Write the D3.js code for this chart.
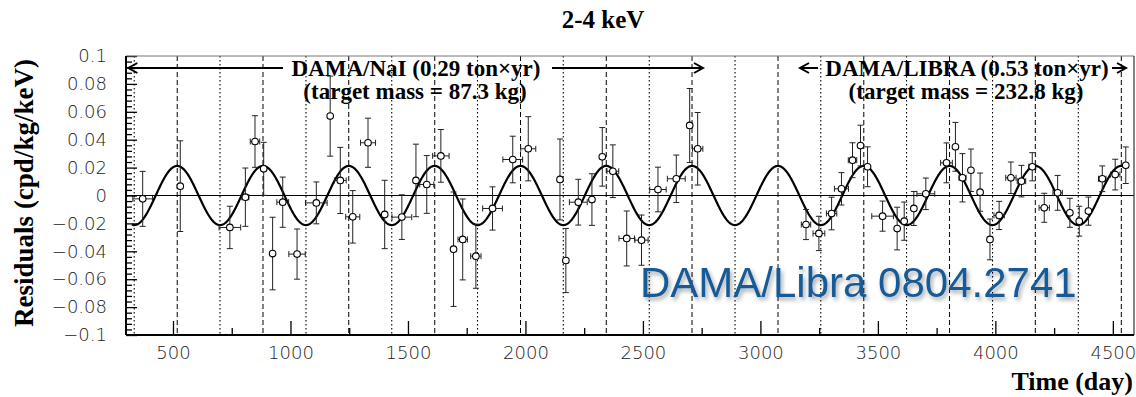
<!DOCTYPE html>
<html>
<head>
<meta charset="utf-8">
<script src="https://cdn.jsdelivr.net/npm/d3@7"></script>
<style>
  html, body { margin: 0; padding: 0; background: #fff; }
  svg { display: block; }
</style>
</head>
<body>
<svg id="svg" width="1136" height="397"></svg>
<script>
// residuals, 2-4 keV
const days = [371, 531, 742, 808, 849, 886, 924, 967, 1028, 1110, 1169, 1212, 1265, 1330, 1401, 1474,
  1534, 1580, 1640, 1694, 1733, 1789, 1860, 1946, 2012, 2147, 2172, 2225, 2283, 2327, 2372, 2431,
  2494, 2564, 2642, 2699, 2733, 3194, 3249, 3303, 3345, 3392, 3426, 3456, 3520, 3582, 3612, 3653,
  3704, 3792, 3830, 3860, 3896, 3935, 3977, 4016, 4066, 4111, 4157, 4208, 4265, 4317, 4357, 4396,
  4455, 4510, 4555];
const residuals = [-0.0024, 0.0067, -0.0229, -0.0012, 0.0387, 0.0191, -0.0416, -0.0048, -0.042, -0.0053,
  0.0569, 0.0108, -0.0153, 0.0378, -0.0136, -0.0155, 0.0108, 0.0079, 0.0284, -0.0385, -0.0315, -0.0435,
  -0.0093, 0.0258, 0.0335, 0.0115, -0.0466, -0.0048, -0.0029, 0.0277, 0.0174, -0.0308, -0.032, 0.0043,
  0.012, 0.0502, 0.0335, -0.0208, -0.0272, -0.0129, 0.0048, 0.0253, 0.0358, 0.0206, -0.0148, -0.0237,
  -0.0184, -0.0093, 0.0012, 0.0234, 0.0349, 0.0127, 0.0181, 0.0024, -0.0315, -0.0143, 0.0127, 0.0103,
  0.0206, -0.0088, 0.0019, -0.0124, -0.0184, -0.0112, 0.012, 0.015, 0.0217];
const yErr = [0.0197, 0.0325, 0.0152, 0.0209, 0.0185, 0.019, 0.026, 0.018, 0.018, 0.015, 0.0287, 0.0237,
  0.0188, 0.0176, 0.0245, 0.016, 0.026, 0.0207, 0.0189, 0.041, 0.029, 0.023, 0.0155, 0.0167, 0.023,
  0.029, 0.023, 0.0164, 0.0185, 0.021, 0.0189, 0.0197, 0.018, 0.016, 0.017, 0.0265, 0.026, 0.0108,
  0.0123, 0.0117, 0.0116, 0.0125, 0.0146, 0.0143, 0.0108, 0.0153, 0.0137, 0.0122, 0.0113, 0.0143,
  0.0175, 0.0173, 0.0152, 0.0137, 0.0146, 0.0101, 0.0113, 0.0113, 0.0101, 0.0104, 0.0125, 0.0104,
  0.0107, 0.0101, 0.0092, 0.011, 0.0131];
const xErr = [42, 10, 46, 15, 20, 12, 10, 25, 35, 46, 10, 25, 30, 32, 12, 42, 12, 30, 35, 10, 20, 22,
  42, 42, 32, 8, 8, 38, 10, 12, 25, 33, 28, 35, 38, 6, 22, 20, 25, 22, 30, 18, 8, 10, 46, 10, 10, 10,
  38, 25, 8, 15, 10, 12, 8, 22, 22, 18, 15, 22, 20, 10, 10, 12, 16, 20, 10];

// expected modulation A cos(2pi/T (t - t0))
const amplitude = 0.0212;
const period = 365.25;
const phase = 152.5;
const curveRange = [325, 4560];

// June 2 (dashed) and December 2 (dotted) of each year
const peakDays = [518, 883, 1248, 1614, 1979, 2344, 2709, 3075, 3440, 3805, 4170, 4536];
const troughDays = [335, 700, 1066, 1431, 1796, 2161, 2527, 2892, 3257, 3622, 3988, 4353];

const xTicks = [500, 1000, 1500, 2000, 2500, 3000, 3500, 4000, 4500];
const xMinorTicks = [750, 1250, 1750, 2250, 2750, 3250, 3750, 4250];
const yTicks = [0.1, 0.08, 0.06, 0.04, 0.02, 0, -0.02, -0.04, -0.06, -0.08, -0.1];
const yTickLabels = ["0.1", "0.08", "0.06", "0.04", "0.02", "0", "\u22120.02", "\u22120.04", "\u22120.06", "\u22120.08", "\u22120.1"];

const svg = d3.select("svg");
const pLeft = 126, pRight = 1134, pTop = 56, pBottom = 335;

const x = d3.scaleLinear().domain([300, 4590]).range([pLeft, pRight]);
const y = d3.scaleLinear().domain([-0.1, 0.1]).range([pBottom, pTop]);

svg.append("rect").attr("width", 1136).attr("height", 397).attr("fill", "#fff");

const defs = svg.append("defs");
defs.append("clipPath").attr("id", "plot")
  .append("rect").attr("x", pLeft).attr("y", pTop).attr("width", pRight - pLeft).attr("height", pBottom - pTop);

const shadow = defs.append("filter").attr("id", "shadow")
  .attr("x", "-10%").attr("y", "-30%").attr("width", "120%").attr("height", "160%");
shadow.append("feDropShadow").attr("dx", 2).attr("dy", 3).attr("stdDeviation", 2)
  .attr("flood-color", "#000").attr("flood-opacity", 0.35);

const plot = svg.append("g").attr("clip-path", "url(#plot)");

// season lines
plot.selectAll(".peak").data(peakDays).join("line").attr("class", "peak")
  .attr("x1", d => x(d)).attr("x2", d => x(d)).attr("y1", pTop).attr("y2", pBottom)
  .attr("stroke", "#000").attr("stroke-width", 1).attr("stroke-dasharray", "5,3");
plot.selectAll(".trough").data(troughDays).join("line").attr("class", "trough")
  .attr("x1", d => x(d)).attr("x2", d => x(d)).attr("y1", pTop).attr("y2", pBottom)
  .attr("stroke", "#000").attr("stroke-width", 1.1).attr("stroke-dasharray", "1.5,2.5");

// zero line
plot.append("line").attr("x1", pLeft).attr("x2", pRight).attr("y1", y(0)).attr("y2", y(0))
  .attr("stroke", "#000").attr("stroke-width", 1);

// cosine
const curveDays = d3.range(curveRange[0], curveRange[1] + 1, 2);
const line = d3.line()
  .x(d => x(d))
  .y(d => y(amplitude * Math.cos(2 * Math.PI / period * (d - phase))));
plot.append("path").datum(curveDays).attr("d", line)
  .attr("fill", "none").attr("stroke", "#000").attr("stroke-width", 2.2);

// points with error bars
const pts = days.map((d, i) => ({ d, v: residuals[i], ey: yErr[i], ex: xErr[i] }));
const cap = 3;
const g = plot.append("g").attr("stroke", "#222").attr("stroke-width", 1);
pts.forEach(p => {
  const cx = x(p.d), cy = y(p.v);
  const y1 = y(p.v + p.ey), y2 = y(p.v - p.ey);
  const x1 = x(p.d - p.ex), x2 = x(p.d + p.ex);
  g.append("line").attr("x1", cx).attr("x2", cx).attr("y1", y1).attr("y2", y2);
  g.append("line").attr("x1", cx - cap).attr("x2", cx + cap).attr("y1", y1).attr("y2", y1);
  g.append("line").attr("x1", cx - cap).attr("x2", cx + cap).attr("y1", y2).attr("y2", y2);
  if (x2 - x1 > 7) {
    g.append("line").attr("x1", x1).attr("x2", x2).attr("y1", cy).attr("y2", cy);
    g.append("line").attr("x1", x1).attr("x2", x1).attr("y1", cy - cap).attr("y2", cy + cap);
    g.append("line").attr("x1", x2).attr("x2", x2).attr("y1", cy - cap).attr("y2", cy + cap);
  }
});
plot.selectAll("circle").data(pts).join("circle")
  .attr("cx", p => x(p.d)).attr("cy", p => y(p.v)).attr("r", 3.3)
  .attr("fill", "#fff").attr("stroke", "#000").attr("stroke-width", 1.1);

// axes
const tickFont = "'DejaVu Sans', sans-serif";
const xAxis = svg.append("g").attr("transform", `translate(0,${pBottom})`)
  .call(d3.axisBottom(x).tickValues(xTicks).tickSizeInner(-14).tickSizeOuter(0).tickPadding(11).tickFormat(d3.format("d")));
svg.append("g").attr("transform", `translate(0,${pBottom})`)
  .call(d3.axisBottom(x).tickValues(xMinorTicks).tickSizeInner(-7).tickSizeOuter(0).tickFormat(""))
  .select(".domain").remove();
const yAxis = svg.append("g").attr("transform", `translate(${pLeft},0)`)
  .call(d3.axisLeft(y).tickValues(yTicks).tickSizeInner(-11).tickSizeOuter(0).tickPadding(19)
    .tickFormat((d, i) => yTickLabels[i]));
const yMinor = d3.range(-0.1, 0.1001, 0.004).filter(v => Math.abs(Math.round(v * 50) - v * 50) > 0.01);
svg.append("g").attr("transform", `translate(${pLeft},0)`)
  .call(d3.axisLeft(y).tickValues(yMinor).tickSizeInner(-6).tickSizeOuter(0).tickFormat(""))
  .select(".domain").remove();

svg.selectAll(".tick line").attr("stroke", "#000").attr("stroke-width", 1.3);
svg.selectAll(".tick text").attr("font-family", tickFont).attr("font-size", 18)
  .attr("font-weight", 300).attr("fill", "#222");
xAxis.select(".domain").remove();
yAxis.select(".domain").remove();

// frame
svg.append("line").attr("x1", pLeft).attr("x2", pRight).attr("y1", pTop).attr("y2", pTop)
  .attr("stroke", "#777").attr("stroke-width", 1);
svg.append("line").attr("x1", pRight).attr("x2", pRight).attr("y1", pTop).attr("y2", pBottom)
  .attr("stroke", "#333").attr("stroke-width", 1.2);
svg.append("line").attr("x1", pLeft).attr("x2", pRight).attr("y1", pBottom).attr("y2", pBottom)
  .attr("stroke", "#000").attr("stroke-width", 2);
svg.append("line").attr("x1", pLeft).attr("x2", pLeft).attr("y1", pTop).attr("y2", pBottom)
  .attr("stroke", "#000").attr("stroke-width", 2);

// labels
const serif = "'Liberation Serif', 'Times New Roman', serif";
svg.append("text").attr("x", 603).attr("y", 28).attr("text-anchor", "middle")
  .attr("font-family", serif).attr("font-weight", "bold").attr("font-size", 25).text("2-4 keV");
svg.append("text").attr("transform", "translate(33,193) rotate(-90)").attr("text-anchor", "middle")
  .attr("font-family", serif).attr("font-weight", "bold").attr("font-size", 27).text("Residuals (cpd/kg/keV)");
svg.append("text").attr("x", 1133).attr("y", 390).attr("text-anchor", "end")
  .attr("font-family", serif).attr("font-weight", "bold").attr("font-size", 26).text("Time (day)");

// experiment arrows
function arrow(x1, x2, yy, head) {
  svg.append("line").attr("x1", x1).attr("x2", x2).attr("y1", yy).attr("y2", yy)
    .attr("stroke", "#000").attr("stroke-width", 2);
  head.forEach(h => {
    const tip = h < 0 ? x1 : x2;
    svg.append("path").attr("d", `M${tip - h * 9},${yy - 5}L${tip},${yy}L${tip - h * 9},${yy + 5}`)
      .attr("fill", "none").attr("stroke", "#000").attr("stroke-width", 2);
  });
}
const arrowY = 68;
arrow(x(310), 283, arrowY, [-1]);
arrow(552, 703, arrowY, [1]);
arrow(800, 818, arrowY, [-1]);
arrow(1112, 1126, arrowY, [1]);

const ann = svg.append("g").attr("font-family", serif).attr("font-weight", "bold").attr("font-size", 23)
  .attr("text-anchor", "middle").attr("fill", "#000");
ann.append("text").attr("x", 416).attr("y", 76).text("DAMA/NaI (0.29 ton\u00d7yr)");
ann.append("text").attr("x", 415).attr("y", 99).text("(target mass = 87.3 kg)");
ann.append("text").attr("x", 967).attr("y", 76).text("DAMA/LIBRA (0.53 ton\u00d7yr)");
ann.append("text").attr("x", 966).attr("y", 99).text("(target mass = 232.8 kg)");

svg.append("text").attr("x", 640).attr("y", 297)
  .attr("font-family", "'Liberation Sans', Arial, sans-serif").attr("font-size", 42)
  .attr("fill", "#175a98").attr("filter", "url(#shadow)").text("DAMA/Libra 0804.2741");
</script>
</body>
</html>
